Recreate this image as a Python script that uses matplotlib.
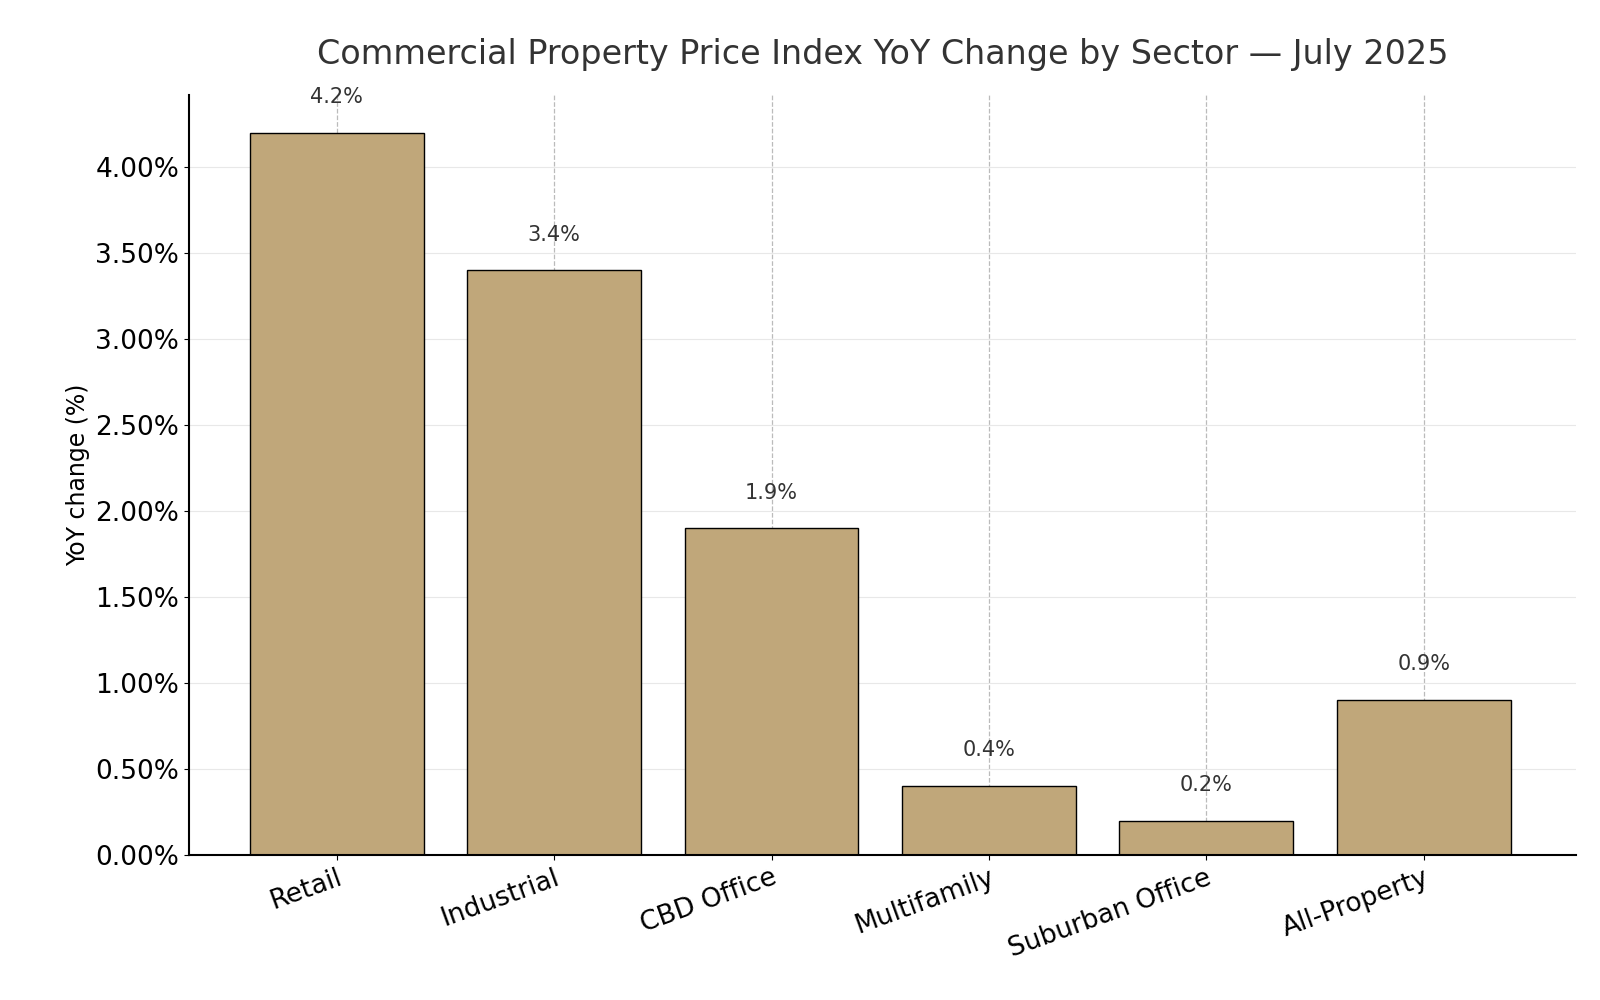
import matplotlib.pyplot as plt
from matplotlib.ticker import FuncFormatter

sectors = ['Retail', 'Industrial', 'CBD Office', 'Multifamily', 'Suburban Office', 'All-Property']
yoy = [4.2, 3.4, 1.9, 0.4, 0.2, 0.9]

fig = plt.figure(figsize=(16, 10), dpi=100)
ax = fig.add_axes([0.118, 0.145, 0.867, 0.76])

x = range(len(sectors))
ax.bar(x, yoy, width=0.8, color='#C0A77A', edgecolor='black', linewidth=1, zorder=2)

for i, v in zip(x, yoy):
    ax.text(i, v + 0.15, f'{v:.1f}%', ha='center', va='bottom', fontsize=15, color='#333333')

ax.set_xlim(-0.68, 5.7)
ax.set_ylim(0, 4.42)
ax.set_xticks(list(x))
ax.set_xticklabels(sectors, rotation=20, ha='right', fontsize=19, rotation_mode='anchor')
ax.yaxis.set_major_formatter(FuncFormatter(lambda v, _: f'{v:.2f}%'))
ax.set_yticks([0, 0.5, 1, 1.5, 2, 2.5, 3, 3.5, 4])
ax.tick_params(axis='y', labelsize=19)
ax.set_ylabel('YoY change (%)', fontsize=17)
ax.set_title('Commercial Property Price Index YoY Change by Sector — July 2025', fontsize=24, color='#333333', pad=22)

ax.grid(axis='y', color='#e8e8e8', linewidth=0.8, zorder=0)
ax.grid(axis='x', color='#bbbbbb', linestyle='--', linewidth=0.9, zorder=0)
ax.spines['top'].set_visible(False)
ax.spines['right'].set_visible(False)
ax.spines['left'].set_linewidth(1.5)
ax.spines['bottom'].set_linewidth(1.5)

fig.savefig('out.png')
